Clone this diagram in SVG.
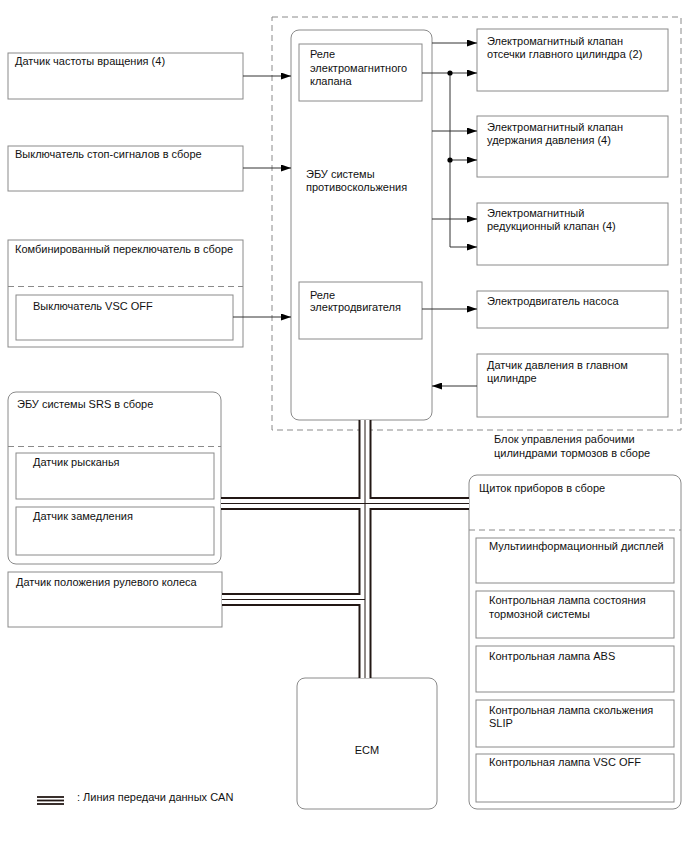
<svg xmlns="http://www.w3.org/2000/svg" width="688" height="852" viewBox="0 0 688 852">
<style>
text{font-family:"Liberation Sans",Arial,sans-serif;font-size:11px;fill:#111}
.box{fill:#fff;stroke:#8a8a8a;stroke-width:1}
.dash{fill:none;stroke:#8a8a8a;stroke-width:1;stroke-dasharray:6,4}
.wire{fill:none;stroke:#333;stroke-width:1}
.arr{marker-end:url(#ah)}
.busO{fill:none;stroke:#231815;stroke-width:13}
.busW{fill:none;stroke:#fff;stroke-width:9}
.busM{fill:none;stroke:#231815;stroke-width:1}
</style>
<defs>
<marker id="ah" markerUnits="userSpaceOnUse" markerWidth="10" markerHeight="7" refX="10" refY="3.5" orient="auto">
<path d="M0,0 L10,3.5 L0,7 z" fill="#000"/>
</marker>
</defs>
<rect width="688" height="852" fill="#fff"/>

<g id="brake-actuator">
<rect class="dash" x="272" y="17" width="409" height="413"/>
<text x="494" y="443">Блок управления рабочими</text>
<text x="494" y="457">цилиндрами тормозов в сборе</text>
</g>

<g id="ecu-skid">
<rect class="box" x="291" y="30" width="141" height="390" rx="8"/>
<text x="306" y="178">ЭБУ системы</text>
<text x="306" y="191">противоскольжения</text>
</g>
<g id="relay-solenoid">
<rect class="box" x="299" y="44" width="123" height="57"/>
<text x="310" y="58">Реле</text>
<text x="310" y="72">электромагнитного</text>
<text x="310" y="85">клапана</text>
</g>
<g id="relay-motor">
<rect class="box" x="299" y="282" width="123" height="57"/>
<text x="310" y="299">Реле</text>
<text x="310" y="311">электродвигателя</text>
</g>

<g id="valve-cut">
<rect class="box" x="477" y="29" width="191" height="62"/>
<text x="487" y="45">Электромагнитный клапан</text>
<text x="487" y="58">отсечки главного цилиндра (2)</text>
</g>
<g id="valve-hold">
<rect class="box" x="477" y="116" width="191" height="61"/>
<text x="487" y="131">Электромагнитный клапан</text>
<text x="487" y="144">удержания давления (4)</text>
</g>
<g id="valve-reduce">
<rect class="box" x="477" y="203" width="191" height="62"/>
<text x="487" y="217">Электромагнитный</text>
<text x="487" y="230">редукционный клапан (4)</text>
</g>
<g id="pump-motor">
<rect class="box" x="477" y="291" width="191" height="37"/>
<text x="487" y="305">Электродвигатель насоса</text>
</g>
<g id="mc-pressure">
<rect class="box" x="477" y="354" width="191" height="63"/>
<text x="487" y="369">Датчик давления в главном</text>
<text x="487" y="382">цилиндре</text>
</g>

<g id="speed-sensor">
<rect class="box" x="8" y="53" width="235" height="46"/>
<text x="15" y="65">Датчик частоты вращения (4)</text>
</g>
<g id="stop-switch">
<rect class="box" x="8" y="146" width="235" height="45"/>
<text x="15" y="158">Выключатель стоп-сигналов в сборе</text>
</g>
<g id="combo-switch">
<rect class="box" x="8" y="240" width="235" height="107"/>
<text x="15" y="253">Комбинированный переключатель в сборе</text>
<line class="dash" x1="8" y1="286.5" x2="243" y2="286.5"/>
<rect class="box" x="16" y="295" width="217" height="45"/>
<text x="33" y="310">Выключатель VSC OFF</text>
</g>

<g id="srs-ecu">
<rect class="box" x="8" y="392" width="213" height="172" rx="8"/>
<text x="17" y="408">ЭБУ системы SRS в сборе</text>
<line class="dash" x1="8" y1="446.5" x2="221" y2="446.5"/>
<rect class="box" x="16" y="453" width="198" height="46"/>
<text x="33" y="466">Датчик рысканья</text>
<rect class="box" x="16" y="507" width="198" height="48"/>
<text x="33" y="520">Датчик замедления</text>
</g>
<g id="steering-sensor">
<rect class="box" x="8" y="572" width="214" height="55"/>
<text x="16" y="586">Датчик положения рулевого колеса</text>
</g>

<g id="ecm">
<rect class="box" x="297" y="678" width="140" height="131" rx="8"/>
<text x="367" y="754" text-anchor="middle">ECM</text>
</g>

<g id="combination-meter">
<rect class="box" x="469" y="475" width="212" height="334" rx="8"/>
<text x="479" y="492">Щиток приборов в сборе</text>
<line class="dash" x1="469" y1="530" x2="681" y2="530"/>
<rect class="box" x="476" y="538" width="198" height="45"/>
<text x="489" y="550">Мультиинформационный дисплей</text>
<rect class="box" x="476" y="591" width="198" height="47"/>
<text x="489" y="604">Контрольная лампа состояния</text>
<text x="489" y="618">тормозной системы</text>
<rect class="box" x="476" y="646" width="198" height="46"/>
<text x="489" y="660">Контрольная лампа ABS</text>
<rect class="box" x="476" y="700" width="198" height="47"/>
<text x="489" y="714">Контрольная лампа скольжения</text>
<text x="489" y="727">SLIP</text>
<rect class="box" x="476" y="754" width="198" height="48"/>
<text x="489" y="766">Контрольная лампа VSC OFF</text>
</g>

<g id="connectors">
<line class="wire arr" x1="243" y1="76" x2="291" y2="76"/>
<line class="wire arr" x1="243" y1="168" x2="291" y2="168"/>
<line class="wire arr" x1="233" y1="317" x2="291" y2="317"/>
<line class="wire arr" x1="432" y1="43" x2="477" y2="43"/>
<line class="wire arr" x1="422" y1="73" x2="477" y2="73"/>
<line class="wire arr" x1="432" y1="131" x2="477" y2="131"/>
<line class="wire arr" x1="450" y1="160" x2="477" y2="160"/>
<line class="wire arr" x1="432" y1="219" x2="477" y2="219"/>
<path class="wire arr" d="M450 73 V247 H477"/>
<circle cx="450" cy="73" r="2.6" fill="#000"/>
<circle cx="450" cy="160" r="2.6" fill="#000"/>
<line class="wire arr" x1="422" y1="309" x2="477" y2="309"/>
<line class="wire arr" x1="477" y1="386" x2="432" y2="386"/>
<g id="can-bus">
<path class="busO" d="M365 420 V678 M221 503.5 H469 M222 599.5 H365"/>
<path class="busW" d="M365 420 V678 M221 503.5 H469 M222 599.5 H365"/>
<path class="busM" d="M365 420 V678 M221 503.5 H469 M222 599.5 H365"/>
</g>
</g>

<g id="legend">
<line x1="37" y1="797" x2="64" y2="797" stroke="#231815" stroke-width="1.8"/>
<line x1="37" y1="800.5" x2="64" y2="800.5" stroke="#231815" stroke-width="1.8"/>
<line x1="37" y1="804" x2="64" y2="804" stroke="#231815" stroke-width="1.8"/>
<text x="77" y="801">: Линия передачи данных CAN</text>
</g>
</svg>
